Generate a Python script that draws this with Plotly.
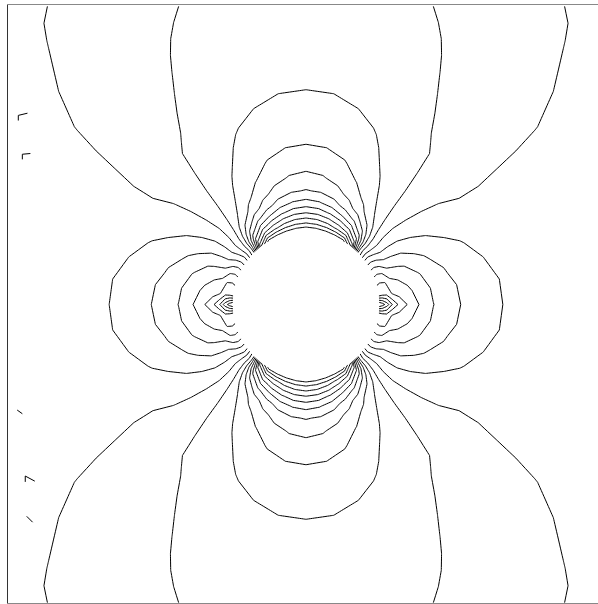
import numpy as np
import plotly.graph_objects as go

# ---- values (field vs. distance from hole centre, hole radius = 1) ----
# along the horizontal axis (side lobes): contour levels crossed and where
x_axis_r     = [1.0, 1.082, 1.128, 1.173, 1.241, 1.378, 1.538, 1.742, 2.08, 2.65, 2.9,   3.43,  4.07,  4.41,  4.9,  5.38, 5.8]
x_axis_value = [0.0, 0.1,   0.2,   0.3,   0.4,   0.5,   0.6,   0.7,   0.8,  0.9,  0.903, 0.912, 0.91,  0.908, 0.92, 0.93, 0.93]
# along the vertical axis (top / bottom lobes)
y_axis_r     = [1.0, 1.057, 1.112, 1.18, 1.248, 1.33, 1.426, 1.562, 1.794, 2.176, 2.926, 3.43, 4.07, 4.41,  4.9,  5.38,  5.8]
y_axis_value = [2.2, 2.1,   2.0,   1.9,  1.8,   1.7,  1.6,   1.5,   1.4,   1.3,   1.2,   1.17, 1.15, 1.137, 1.08, 1.052, 1.03]
# value on the hole edge vs. angle from the horizontal axis (where the levels end on the hole)
hole_theta = [0.0, 7.5,  15.0, 22.0, 28.0, 33.0, 37.0, 40.0, 43.0, 45.0, 47.0, 50.0, 54.0, 60.0, 90.0]
hole_value = [0.0, 0.45, 0.5,  0.6,  0.7,  0.8,  0.9,  1.0,  1.1,  1.2,  1.45, 1.75, 2.0,  2.15, 2.2]
# how far the hole-edge profile reaches into the field
hole_reach_r = [1.0, 1.1, 1.25, 1.45, 1.7]
hole_reach_w = [1.0, 0.6, 0.25, 0.06, 0.0]
# small stray pieces of the 1.0 contour near the left edge (x, y; None splits pieces)
stray_x = [-3.925, -3.925, -3.80, None, -3.87, -3.87, -3.76, None,
           -3.94, -3.87, None, -3.83, -3.83, -3.70, None, -3.81, -3.73]
stray_y = [2.51, 2.58, 2.61, None, 1.98, 2.05, 2.06, None,
           -1.44, -1.49, None, -2.42, -2.34, -2.41, None, -2.89, -2.97]
# contour levels drawn
level_start, level_end, level_step = 0.1, 2.1, 0.1
hole_radius = 1.0
half_size = 4.07

# ---- mesh (hole -> square boundary), like a coarse FE mesh ----
theta_deg = np.arange(0.0, 360.0001, 7.5)
t = np.array([0, 0.015, 0.035, 0.06, 0.09, 0.13, 0.18, 0.24, 0.31, 0.39, 0.47, 0.55,
              0.63, 0.71, 0.79, 0.86, 0.93, 1.0])
th = np.deg2rad(theta_deg)[:, None]
c, s = np.cos(th), np.sin(th)
hx, hy = hole_radius * c, hole_radius * s
k = half_size / np.maximum(np.abs(c), np.abs(s))
bx, by = k * c, k * s
X = hx + t[None, :] * (bx - hx)
Y = hy + t[None, :] * (by - hy)
R = np.hypot(X, Y)
S2 = (Y / R) ** 2
P = np.interp(R, x_axis_r, x_axis_value)
Q = np.interp(R, y_axis_r, y_axis_value)
Zfar = P + (Q - P) * S2
ang = np.degrees(np.arctan2(np.abs(Y), np.abs(X)))
edge_far = x_axis_value[0] + (y_axis_value[0] - x_axis_value[0]) * np.sin(np.radians(ang)) ** 2
edge_ref = np.interp(ang, hole_theta, hole_value)
Z = Zfar + (edge_ref - edge_far) * np.interp(R, hole_reach_r, hole_reach_w)

hidden_axis = dict(showgrid=False, showline=False, showticklabels="none",
                   startline=False, endline=False, smoothing=0,
                   minorgridcount=0, gridcolor="rgba(0,0,0,0)",
                   linecolor="rgba(0,0,0,0)")

fig = go.Figure()
fig.add_trace(go.Carpet(carpet="mesh", a=list(range(len(t))), b=theta_deg.tolist(),
                        x=X.tolist(), y=Y.tolist(),
                        aaxis=hidden_axis, baxis=hidden_axis))
fig.add_trace(go.Contourcarpet(carpet="mesh", a=list(range(len(t))), b=theta_deg.tolist(),
                               z=Z.tolist(), showscale=False,
                               contours=dict(start=level_start, end=level_end, size=level_step,
                                             coloring="none", showlines=True),
                               line=dict(color="black", width=1, smoothing=0)))
fig.add_trace(go.Scatter(x=stray_x, y=stray_y, mode="lines", connectgaps=False,
                         line=dict(color="black", width=1), hoverinfo="skip"))

fig.update_layout(width=598, height=604, margin=dict(l=8, r=0, t=5, b=1),
                  paper_bgcolor="white", plot_bgcolor="white", showlegend=False)
fig.update_xaxes(range=[-(306 - 8) / 73.3, (598 - 306) / 73.3], showgrid=False, zeroline=False,
                 showticklabels=False, ticks="", showline=True, mirror=True,
                 linecolor="#888", linewidth=1)
fig.update_yaxes(range=[-(603 - 304.5) / 73.3, (304.5 - 5) / 73.3], showgrid=False, zeroline=False,
                 showticklabels=False, ticks="", showline=True, mirror=False,
                 linecolor="#333", linewidth=1)
fig.write_html("out.html", config={"responsive": False, "displayModeBar": False},
               post_script="document.body.style.margin='0';document.body.style.overflow='hidden';")
